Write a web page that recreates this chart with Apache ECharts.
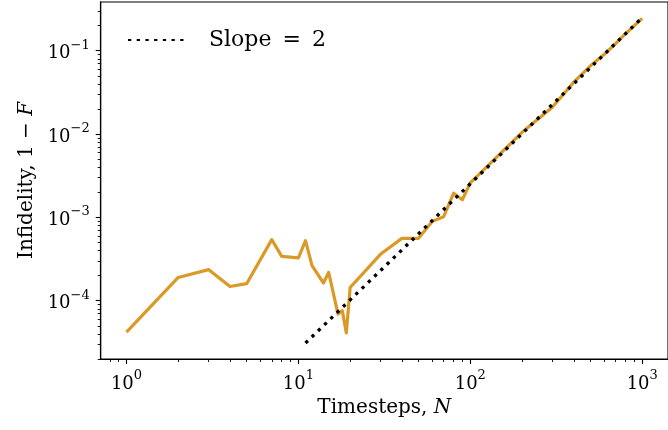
<!DOCTYPE html>
<html><head><meta charset="utf-8">
<script src="https://cdn.jsdelivr.net/npm/echarts@6/dist/echarts.min.js"></script>
<style>html,body{margin:0;padding:0;background:#fff}#c{width:668px;height:430px}</style>
</head><body><div id="c"></div>
<script>
// Orange curve: timesteps N and infidelity 1-F
const timesteps = [1,2,3,4,5,7,8,10,11,12,14,15,17,18,19,20,30,40,50,60,70,80,90,100,200,300,400,500,600,700,800,900,1000];
const infidelity = [4.2e-5,1.9e-4,2.36e-4,1.48e-4,1.6e-4,5.4e-4,3.4e-4,3.26e-4,5.25e-4,2.63e-4,1.63e-4,2.19e-4,6.9e-5,7.6e-5,4.1e-5,1.44e-4,3.6e-4,5.6e-4,5.6e-4,8.95e-4,1.02e-3,1.95e-3,1.63e-3,2.6e-3,1.05e-2,2.1e-2,4.2e-2,6.6e-2,9.0e-2,0.122,0.16,0.2,0.245];
// Reference slope-2 line endpoints
const slopeN = [11, 1000];
const slopeValues = [3.1e-5, 0.25];
const slopeLabel = 'Slope\u2002=\u20022';
// Tick decades
const xDecades = [0, 1, 2, 3];
const yDecades = [-4, -3, -2, -1];
const minorMultipliers = [2,3,4,5,6,7,8,9];

const X_MIN = -0.15, X_MAX = 3.15, Y_MIN = -4.70, Y_MAX = -0.415;
const FONT = 'DejaVu Serif';

function minorTicks(fromExp, toExp, lo, hi) {
  const out = [];
  for (let e = fromExp; e <= toExp; e++) for (const k of minorMultipliers) {
    const v = Math.log10(k) + e;
    if (v >= lo && v <= hi) out.push(v);
  }
  return out;
}
const sup = n => '{b|10}{s|' + String(n).replace('-', '\u2212') + '}';
const rich = {
  b: {fontFamily: FONT, fontSize: 18, color: '#000', lineHeight: 24, verticalAlign: 'bottom'},
  s: {fontFamily: FONT, fontSize: 13, color: '#000', lineHeight: 10, verticalAlign: 'top'}
};

const mainData = timesteps.map((n, i) => [Math.log10(n), Math.log10(infidelity[i])]);
const slopeData = slopeN.map((n, i) => [Math.log10(n), Math.log10(slopeValues[i])]);

const chart = echarts.init(document.getElementById('c'));
chart.setOption({
  animation: false,
  backgroundColor: '#fff',
  grid: {left: 100.7, top: 2, right: -4.6, bottom: 71, show: true, borderColor: '#000', borderWidth: 1.1, backgroundColor: 'transparent'},
  legend: {
    data: [slopeLabel], left: 127, top: 29, padding: 0,
    itemWidth: 56, itemHeight: 26,
    itemStyle: {color: 'rgba(0,0,0,0)', borderWidth: 0, borderColor: 'rgba(0,0,0,0)'},
    textStyle: {fontFamily: FONT, fontSize: 22, color: '#000', padding: [0, 0, 0, 20]}
  },
  xAxis: [
    {type: 'value', min: X_MIN, max: X_MAX, position: 'bottom',
     axisLine: {show: true, onZero: false, lineStyle: {color: '#000', width: 1.1}},
     axisTick: {show: true, inside: false, length: 5, customValues: xDecades, lineStyle: {color: '#000', width: 1.1}},
     axisLabel: {show: true, margin: 10, customValues: xDecades, formatter: v => sup(Math.round(v)), rich: rich},
     splitLine: {show: false},
     name: '{t|Timesteps, }{i|N}', nameLocation: 'middle', nameGap: 37,
     nameTextStyle: {rich: {t: {fontFamily: FONT, fontSize: 20, color: '#000'}, i: {fontFamily: FONT, fontStyle: 'italic', fontSize: 20, color: '#000'}}}},
    {type: 'value', min: X_MIN, max: X_MAX, position: 'bottom',
     axisLine: {show: true, onZero: false, lineStyle: {color: '#000', width: 1.1}},
     axisTick: {show: true, inside: false, length: 3, customValues: minorTicks(-1, 3, X_MIN, X_MAX), lineStyle: {color: '#000', width: 0.9}},
     axisLabel: {show: false}, splitLine: {show: false}}
  ],
  yAxis: [
    {type: 'value', min: Y_MIN, max: Y_MAX, position: 'left',
     axisLine: {show: true, onZero: false, lineStyle: {color: '#000', width: 1.1}},
     axisTick: {show: true, inside: false, length: 5, customValues: yDecades, lineStyle: {color: '#000', width: 1.1}},
     axisLabel: {show: true, margin: 11, customValues: yDecades, formatter: v => sup(Math.round(v)), rich: rich},
     splitLine: {show: false},
     name: '{t|Infidelity, 1 \u2212 }{i|F}', nameLocation: 'middle', nameGap: 64,
     nameTextStyle: {rich: {t: {fontFamily: FONT, fontSize: 20, color: '#000'}, i: {fontFamily: FONT, fontStyle: 'italic', fontSize: 20, color: '#000'}}}},
    {type: 'value', min: Y_MIN, max: Y_MAX, position: 'left',
     axisLine: {show: true, onZero: false, lineStyle: {color: '#000', width: 1.1}},
     axisTick: {show: true, inside: false, length: 3, customValues: minorTicks(-5, -1, Y_MIN, Y_MAX), lineStyle: {color: '#000', width: 0.9}},
     axisLabel: {show: false}, splitLine: {show: false}}
  ],
  series: [
    {name: 'Infidelity', type: 'line', data: mainData, xAxisIndex: 0, yAxisIndex: 0, symbol: 'none',
     lineStyle: {color: '#DB9A27', width: 3.2, join: 'round'}, itemStyle: {color: '#DB9A27'}, z: 2},
    {name: slopeLabel, type: 'line', data: slopeData, xAxisIndex: 0, yAxisIndex: 0, symbol: 'none',
     lineStyle: {color: '#000', width: 3.3, type: [3.3, 5.4], cap: 'butt'}, itemStyle: {color: '#000'}, z: 3}
  ]
});
</script></body></html>
